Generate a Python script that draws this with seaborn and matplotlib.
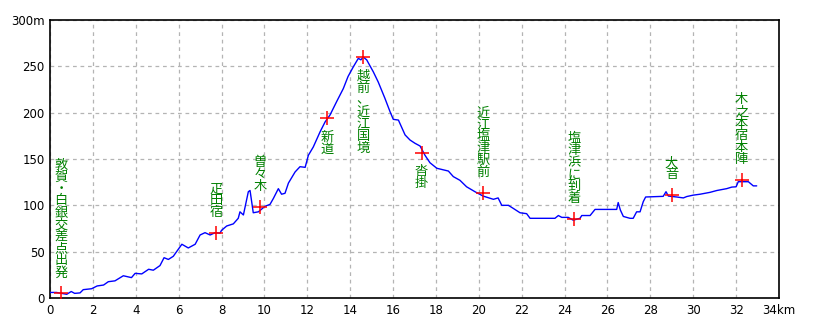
import matplotlib
matplotlib.use("Agg")
import matplotlib.pyplot as plt
import seaborn as sns
import pandas as pd

# Elevation profile (km, m)
dist_km = [0, 0.3, 0.78, 0.99, 1.15, 1.4, 1.55, 1.94, 2.2, 2.5, 2.72, 3.03, 3.42, 3.8, 3.97,
           4.28, 4.6, 4.82, 5.13, 5.32, 5.52, 5.75, 6.15, 6.45, 6.77, 7.0, 7.23, 7.47, 7.7,
           7.93, 8.0, 8.24, 8.55, 8.78, 8.86, 9.02, 9.25, 9.33, 9.48, 9.72, 10.03, 10.26,
           10.42, 10.65, 10.8, 10.96, 11.12, 11.43, 11.66, 11.9, 12.05, 12.28, 12.6, 12.83,
           13.06, 13.37, 13.68, 13.9, 14.15, 14.38, 14.5, 14.61, 14.77, 15.08, 15.31, 15.62,
           15.86, 16.01, 16.25, 16.56, 16.79, 17.02, 17.26, 17.49, 17.72, 18.04, 18.58,
           18.81, 19.12, 19.43, 19.82, 20.2, 20.68, 20.9, 21.07, 21.38, 21.6, 21.92, 22.23,
           22.39, 23.55, 23.71, 23.87, 24.17, 24.4, 24.72, 24.8, 25.19, 25.42, 26.43, 26.5,
           26.6, 26.74, 27.05, 27.2, 27.36, 27.52, 27.67, 27.78, 28.6, 28.73, 28.84, 29.23,
           29.54, 29.7, 30.0, 30.32, 30.78, 31.1, 31.56, 31.8, 32.0, 32.1, 32.34, 32.57,
           32.8, 32.96]
elev_m = [6, 6, 4, 7, 5, 5.5, 9, 10, 13, 14, 17.6, 18.5, 24, 22, 26.6,
          26, 31, 30, 35, 43.5, 41.6, 45, 58, 54, 58, 68, 70.5, 68, 70.5,
          70, 73, 77.7, 80, 86, 93, 89.6, 114.7, 116, 92, 93, 99, 101,
          107.5, 118, 112, 113, 124, 136, 141.7, 141, 154, 163, 179.5, 190,
          197.5, 212, 226, 239, 249.6, 258.6, 257, 260, 257, 244, 233, 215.5,
          201, 192.8, 192, 176, 170.5, 167, 164, 154, 146, 140, 137,
          131, 127, 120, 114.7, 110, 106.5, 108, 100, 100, 96.8, 92, 91,
          86, 86, 89, 87, 87, 84, 86, 89, 89, 95.6, 95.6, 103,
          95, 88, 86, 86, 93, 93, 104, 109, 109.7, 114.7, 110, 109,
          108, 109.5, 111, 112, 114, 116, 118, 119.7, 120, 125.5, 125.5, 125.5,
          121, 121]

# Waypoints
wp_names = ["敦賀・白銀交差点出発", "疋田宿", "曽々木", "新道", "越前、近江国境",
            "沓掛", "近江塩津駅前", "塩津浜に到着", "大音", "木之本宿本陣"]
wp_km = [0.51, 7.74, 9.8, 12.94, 14.61, 17.33, 20.21, 24.44, 28.99, 32.26]
wp_m = [5, 70, 98, 194, 260, 157, 113, 85, 111, 127]
wp_below = [False, False, False, True, True, True, False, False, False, False]

x_ticks = [0, 2, 4, 6, 8, 10, 12, 14, 16, 18, 20, 22, 24, 26, 28, 30, 32, 34]
x_labels = ["0", "2", "4", "6", "8", "10", "12", "14", "16", "18", "20", "22", "24",
            "26", "28", "30", "32", "34km"]
y_ticks = [0, 50, 100, 150, 200, 250, 300]
y_labels = ["0", "50", "100", "150", "200", "250", "300m"]

sns.set_style("white")
plt.rcParams['font.family'] = ['DejaVu Sans']

profile = pd.DataFrame({"km": dist_km, "m": elev_m})
points = pd.DataFrame({"km": wp_km, "m": wp_m})

fig = plt.figure(figsize=(8.2, 3.28), dpi=100)
ax = fig.add_axes([50 / 820, 30 / 328, 729 / 820, 278 / 328])

sns.lineplot(data=profile, x="km", y="m", ax=ax, color="#0000ff", linewidth=1.0,
             estimator=None, sort=False, zorder=3)
sns.scatterplot(data=points, x="km", y="m", ax=ax, marker="+", color="#ff0000",
                s=110, linewidth=1.1, zorder=4)

jp = ["Noto Sans CJK JP", "DejaVu Sans"]
for name, xk, ym, below in zip(wp_names, wp_km, wp_m, wp_below):
    txt = "\n".join(name)
    if below:
        ax.annotate(txt, (xk, ym), xytext=(0, -9), textcoords="offset points",
                    ha="center", va="top", color="#008000", fontsize=9.5,
                    linespacing=0.9, family=jp, zorder=5)
    else:
        ax.annotate(txt, (xk, ym), xytext=(0, 10), textcoords="offset points",
                    ha="center", va="bottom", color="#008000", fontsize=9.5,
                    linespacing=0.9, family=jp, zorder=5)

ax.set_xlim(0, 34)
ax.set_ylim(0, 300)
ax.set_xticks(x_ticks)
ax.set_xticklabels(x_labels)
ax.set_yticks(y_ticks)
ax.set_yticklabels(y_labels)
ax.set_xlabel("")
ax.set_ylabel("")
ax.grid(True, color="#b4b4b4", linestyle=(0, (3, 3)), linewidth=0.9)
ax.tick_params(axis="both", length=0, labelsize=8.5, colors="black", pad=4)
for sp in ax.spines.values():
    sp.set_visible(True)
    sp.set_color("black")
    sp.set_linewidth(1.2)

fig.savefig("out.png", dpi=100)
